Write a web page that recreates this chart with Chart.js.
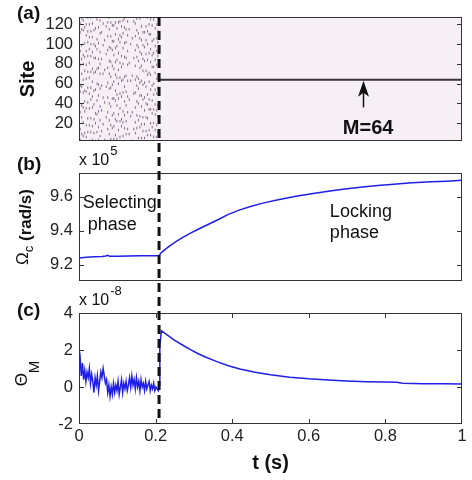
<!DOCTYPE html>
<html>
<head>
<meta charset="utf-8">
<script src="https://cdn.jsdelivr.net/npm/chart.js@4.4.0/dist/chart.umd.min.js"></script>
<style>
  body { margin: 0; background: #fff; }
  #wrap { position: relative; width: 472px; height: 480px; }
  #wrap canvas { position: absolute; left: 0; top: 0; }
</style>
</head>
<body>
<div id="wrap">
  <canvas id="panelA" width="472" height="480"></canvas>
  <canvas id="panelB" width="472" height="480"></canvas>
  <canvas id="panelC" width="472" height="480"></canvas>
</div>
<script>
// switch from selecting to locking, and the site that gets locked
var lockTime = 0.209;
var lockedSite = 64;

var siteTicks = [20, 40, 60, 80, 100, 120];
var omegaTicks = [9.2, 9.4, 9.6];
var thetaTicks = [-2, 0, 2, 4];
var timeTicks = [0, 0.2, 0.4, 0.6, 0.8, 1];

// (a) selected sites during the selecting phase, one string per time column,
// every second site of a string sits in the alt column next to it
var selectTimes = [0.003, 0.107, 0.043, 0.179, 0.083, 0.011, 0.155, 0.059, 0.067, 0.123, 0.027, 0.195, 0.091,
                   0.147, 0.051, 0.171, 0.131, 0.139, 0.019, 0.099, 0.187, 0.035, 0.115, 0.163, 0.075, 0.203];
var selectTimesAlt = [0.007, 0.111, 0.047, 0.183, 0.087, 0.015, 0.159, 0.063, 0.071, 0.127, 0.031, 0.199, 0.095,
                      0.151, 0.055, 0.175, 0.135, 0.143, 0.023, 0.103, 0.191, 0.039, 0.119, 0.167, 0.079, 0.206];
var selectSites = [
    "3 9 14 26 31 38 52 57 58 70 79 85 93 99 112 115 121 126",
    "6 17 22 24 35 47 50 63 66 77 81 88 102 107 109 118 123",
    "2 11 20 29 30 43 54 60 72 75 86 95 98 105 116 125",
    "8 13 25 34 39 44 49 62 69 71 84 91 100 110 113 120 127",
    "4 15 18 28 37 45 56 59 67 78 82 94 96 103 108 119 122",
    "7 10 21 32 36 42 51 53 64 73 80 87 89 101 114 117 124",
    "5 16 23 27 40 48 55 61 65 76 83 92 97 106 111 126",
    "12 19 33 46 58 70 85 99 112 121",
    "3 26 41 57 74 90 104 118",
    "9 14 22 31 38 47 52 63 68 79 86 93 102 109 115 123",
    "2 11 18 25 35 44 50 56 66 72 81 88 95 100 107 113 120 127",
    "6 13 20 29 34 39 49 54 60 71 77 84 91 98 105 116 125",
    "4 8 17 24 30 43 45 53 62 69 75 82 89 96 103 110 119 122",
    "10 15 21 28 36 42 51 58 64 67 78 87 94 99 108 114 121 126",
    "3 7 16 23 32 37 48 55 59 70 76 80 85 92 101 111 117 124",
    "5 12 19 26 33 40 46 57 61 73 83 90 97 104 112 118",
    "9 27 44 63 81 100 115",
    "2 14 31 50 68 86 106 123",
    "6 11 18 25 35 41 52 56 65 72 79 88 93 102 109 113 120 127",
    "4 13 22 29 38 45 49 60 66 74 84 91 98 105 116 122",
    "8 16 20 30 34 43 54 58 69 77 82 89 95 103 110 119 125",
    "3 10 17 24 36 39 47 53 62 71 75 86 92 100 107 114 121",
    "7 15 21 28 32 42 51 57 64 67 80 87 96 101 111 117 124 126",
    "5 12 19 26 37 44 48 59 63 73 78 85 90 99 104 112 118",
    "2 9 14 23 31 40 46 55 61 70 76 83 94 97 108 115 122 127",
    "6 11 18 27 33 38 50 56 65 68 79 88 93 102 106 113 120"
];

// (b) Omega_c in units of 1e5 rad/s
var omegaTimes = [0, 0.02, 0.04, 0.06, 0.07, 0.075, 0.08, 0.1, 0.13, 0.16, 0.19, 0.209, 0.215, 0.23, 0.25, 0.27, 0.29, 0.31,
                  0.33, 0.36, 0.39, 0.42, 0.45, 0.48, 0.52, 0.57, 0.62, 0.66, 0.70, 0.74, 0.78, 0.83, 0.87, 0.92, 0.96, 1.0];
var omegaValues = [9.240, 9.244, 9.247, 9.249, 9.252, 9.256, 9.250, 9.251, 9.252, 9.253, 9.253, 9.254, 9.272, 9.300, 9.332, 9.360, 9.385, 9.408,
                   9.430, 9.462, 9.497, 9.523, 9.545, 9.563, 9.583, 9.605, 9.623, 9.636, 9.648, 9.658, 9.667, 9.676, 9.682, 9.688, 9.692, 9.697];

// (c) Theta_M in units of 1e-8
var thetaTimes = [0, 0.003, 0.006, 0.009, 0.012, 0.015, 0.018, 0.021, 0.024, 0.027, 0.030, 0.033, 0.036, 0.039, 0.042, 0.045,
                  0.048, 0.051, 0.054, 0.057, 0.060, 0.063, 0.066, 0.069, 0.072, 0.075, 0.078, 0.081, 0.084, 0.087, 0.090, 0.093,
                  0.096, 0.099, 0.102, 0.105, 0.108, 0.111, 0.114, 0.117, 0.120, 0.123, 0.126, 0.129, 0.132, 0.135, 0.138, 0.141,
                  0.144, 0.147, 0.150, 0.153, 0.156, 0.159, 0.162, 0.165, 0.168, 0.171, 0.174, 0.177, 0.180, 0.183, 0.186, 0.189,
                  0.192, 0.195, 0.198, 0.201, 0.204, 0.207, 0.209,
                  0.211, 0.215, 0.23, 0.25, 0.27, 0.29, 0.31, 0.33, 0.36, 0.39, 0.42, 0.46, 0.50, 0.55, 0.60, 0.65, 0.70, 0.75,
                  0.80, 0.83, 0.845, 0.90, 0.95, 1.0];
var thetaValues = [1.1, 1.55, 0.6, 1.3, 0.4, 0.9, 0.3, 0.8, 0.5, 1.0, 0.2, 0.7, 0.3, -0.3, 0.5, 0.1,
                   0.6, -0.2, 0.3, 0.8, 0.5, 1.0, 0.6, 0.2, 0.4, -0.3, 0.1, -0.5, 0.0, -0.4, 0.2, -0.3,
                   0.1, -0.2, 0.3, -0.4, 0.0, 0.4, -0.3, 0.2, -0.1, 0.3, -0.2, 0.1, 0.5, 0.0, 0.6, 0.1,
                   0.4, -0.1, 0.5, 0.0, 0.3, -0.2, 0.4, 0.0, 0.2, -0.2, 0.3, -0.1, 0.1, 0.3, -0.2, 0.1,
                   -0.1, 0.2, -0.2, 0.0, -0.1, -0.2, 0.1,
                   2.2, 3.05, 2.82, 2.52, 2.27, 2.03, 1.81, 1.62, 1.37, 1.15, 0.97, 0.8, 0.66, 0.53, 0.44, 0.38, 0.33, 0.29,
                   0.27, 0.26, 0.2, 0.18, 0.17, 0.16];

var FONT = '"Liberation Sans", Arial, sans-serif';
Chart.defaults.font.family = FONT;
Chart.defaults.font.size = 16.5;
Chart.defaults.color = '#222';

var panels = [];

function toPoints(xs, ys) {
    return xs.map(function(x, i) { return {x: x, y: ys[i]}; });
}

var selectPoints = [];
for (var i = 0; i < selectTimes.length; i++) {
    selectSites[i].split(' ').forEach(function(s, k) {
        selectPoints.push({x: k % 2 ? selectTimesAlt[i] : selectTimes[i], y: Number(s)});
    });
}

function txt(ctx, s, x, y, font, align, base) {
    ctx.font = font + ' ' + FONT;
    ctx.textAlign = align || 'left';
    ctx.textBaseline = base || 'alphabetic';
    ctx.fillStyle = '#111';
    ctx.fillText(s, x, y);
}

// text running bottom to top, parts = [text, font, drop below baseline]
function rotatedLabel(ctx, cx, cy, parts) {
    ctx.save();
    ctx.translate(cx, cy);
    ctx.rotate(-Math.PI / 2);
    var total = 0;
    parts.forEach(function(p) { ctx.font = p[1] + ' ' + FONT; p.w = ctx.measureText(p[0]).width; total += p.w; });
    var x = -total / 2;
    parts.forEach(function(p) { txt(ctx, p[0], x, p[2], p[1]); x += p.w; });
    ctx.restore();
}

function tickList(values) {
    return function(scale) { scale.ticks = values.map(function(v) { return {value: v}; }); };
}

function plainLabel(v) { return String(v); }

function yAxis(min, max, ticks) {
    return {
        min: min, max: max,
        afterFit: function(s) { s.width = 79; },
        afterBuildTicks: tickList(ticks),
        grid: { display: false, drawTicks: false },
        border: { display: false },
        ticks: { padding: 6, callback: plainLabel }
    };
}

var pinkBg = {
    id: 'pinkBg',
    beforeDatasetsDraw: function(chart) {
        var a = chart.chartArea, ctx = chart.ctx;
        ctx.save();
        ctx.fillStyle = '#f6f0f6';
        ctx.fillRect(a.left, a.top, a.right - a.left, a.bottom - a.top);
        ctx.restore();
    }
};

// matlab style box with inward ticks
var boxPlugin = {
    id: 'box',
    afterDatasetsDraw: function(chart) {
        var ctx = chart.ctx, a = chart.chartArea, xs = chart.scales.x, ys = chart.scales.y;
        ctx.save();
        ctx.strokeStyle = '#333';
        ctx.lineWidth = 1;
        ctx.beginPath();
        ys.ticks.forEach(function(t) {
            var py = Math.round(ys.getPixelForValue(t.value)) + 0.5;
            if (py < a.top + 2 || py > a.bottom - 2) return;
            ctx.moveTo(a.left, py); ctx.lineTo(a.left + 5, py);
            ctx.moveTo(a.right, py); ctx.lineTo(a.right - 5, py);
        });
        if (xs.options.display) {
            xs.ticks.forEach(function(t) {
                var px = Math.round(xs.getPixelForValue(t.value)) + 0.5;
                if (px < a.left + 2 || px > a.right - 2) return;
                ctx.moveTo(px, a.top); ctx.lineTo(px, a.top + 5);
                ctx.moveTo(px, a.bottom); ctx.lineTo(px, a.bottom - 5);
            });
        }
        ctx.stroke();
        ctx.strokeRect(Math.round(a.left) + 0.5, Math.round(a.top) + 0.5,
                       Math.round(a.right - a.left) - 1, Math.round(a.bottom - a.top) - 1);
        ctx.restore();
    }
};

var textA = {
    id: 'textA',
    afterDraw: function(chart) {
        var ctx = chart.ctx, xs = chart.scales.x, ys = chart.scales.y;
        txt(ctx, '(a)', 17, 14, 'bold 19px', 'left', 'middle');
        // arrow pointing at the locked site
        var ax = Math.round(xs.getPixelForValue(0.741)) + 0.5;
        var tip = ys.getPixelForValue(lockedSite) + 1;
        var tail = ys.getPixelForValue(36);
        ctx.save();
        ctx.strokeStyle = '#111';
        ctx.fillStyle = '#111';
        ctx.lineWidth = 1.5;
        ctx.beginPath();
        ctx.moveTo(ax, tail); ctx.lineTo(ax, tip + 10);
        ctx.stroke();
        ctx.beginPath();
        ctx.moveTo(ax, tip);
        ctx.lineTo(ax - 5.5, tip + 16);
        ctx.lineTo(ax, tip + 12);
        ctx.lineTo(ax + 5.5, tip + 16);
        ctx.closePath();
        ctx.fill();
        ctx.restore();
        txt(ctx, 'M=64', xs.getPixelForValue(0.755), ys.getPixelForValue(9), 'bold 20px', 'center');
    }
};

var textB = {
    id: 'textB',
    afterDraw: function(chart) {
        var ctx = chart.ctx, a = chart.chartArea, xs = chart.scales.x, ys = chart.scales.y;
        txt(ctx, '(b)', 17, 165, 'bold 19px', 'left', 'middle');
        txt(ctx, 'x 10', 79, a.top - 8, '16px');
        ctx.font = '16px ' + FONT;
        txt(ctx, '5', 80 + ctx.measureText('x 10').width, a.top - 18, '13px');
        txt(ctx, 'Selecting', xs.getPixelForValue(0.01), ys.getPixelForValue(9.535), '18px');
        txt(ctx, 'phase', xs.getPixelForValue(0.023), ys.getPixelForValue(9.405), '18px');
        txt(ctx, 'Locking', xs.getPixelForValue(0.655), ys.getPixelForValue(9.482), '18px');
        txt(ctx, 'phase', xs.getPixelForValue(0.655), ys.getPixelForValue(9.36), '18px');
        rotatedLabel(ctx, 28, (a.top + a.bottom) / 2, [['\u03A9', '17px', 0], ['c', '13px', 5], [' (rad/s)', 'bold 17px', 3]]);
    }
};

var textC = {
    id: 'textC',
    afterDraw: function(chart) {
        var ctx = chart.ctx, a = chart.chartArea, xs = chart.scales.x;
        txt(ctx, '(c)', 17, 311, 'bold 19px', 'left', 'middle');
        txt(ctx, 'x 10', 79, a.top - 8, '16px');
        ctx.font = '16px ' + FONT;
        txt(ctx, '-8', 80 + ctx.measureText('x 10').width, a.top - 18, '13px');
        rotatedLabel(ctx, 27, (a.top + a.bottom) / 2 + 5, [['\u0398', '17px', 0], ['M', '15px', 12]]);
        // dashed switch line through all three panels
        var x = xs.getPixelForValue(lockTime);
        ctx.save();
        ctx.strokeStyle = '#111';
        ctx.lineWidth = 3;
        ctx.setLineDash([9, 5]);
        ctx.beginPath();
        ctx.moveTo(x, panels[0].chartArea.top);
        ctx.lineTo(x, a.bottom);
        ctx.stroke();
        ctx.restore();
    }
};

var common = {
    responsive: false,
    animation: false,
    events: [],
    plugins: { legend: { display: false }, tooltip: { enabled: false } }
};

var yA = yAxis(2, 127.5, siteTicks);
yA.title = { display: true, text: 'Site', color: '#111', font: { size: 20, weight: 'bold' }, padding: { top: 16 } };

panels.push(new Chart(document.getElementById('panelA'), {
    type: 'scatter',
    data: {
        datasets: [
            { data: selectPoints, pointStyle: 'line', pointRotation: 90, pointRadius: 1.3, pointBorderWidth: 1,
              borderColor: '#856d87', backgroundColor: '#856d87' },
            { data: [{x: lockTime, y: lockedSite}, {x: 1, y: lockedSite}], showLine: true, borderColor: '#3c2f3d', borderWidth: 2, pointRadius: 0 }
        ]
    },
    options: Object.assign({}, common, {
        layout: { padding: { left: 0, right: 10, top: 17, bottom: 339 } },
        scales: { x: { type: 'linear', min: 0, max: 1, display: false }, y: yA }
    }),
    plugins: [pinkBg, boxPlugin, textA]
}));

panels.push(new Chart(document.getElementById('panelB'), {
    type: 'scatter',
    data: {
        datasets: [{ data: toPoints(omegaTimes, omegaValues), showLine: true, borderColor: '#1f1fe6', borderWidth: 1.5, pointRadius: 0 }]
    },
    options: Object.assign({}, common, {
        layout: { padding: { left: 0, right: 10, top: 173, bottom: 199 } },
        scales: { x: { type: 'linear', min: 0, max: 1, display: false }, y: yAxis(9.105, 9.74, omegaTicks) }
    }),
    plugins: [boxPlugin, textB]
}));

panels.push(new Chart(document.getElementById('panelC'), {
    type: 'scatter',
    data: {
        datasets: [{ data: toPoints(thetaTimes, thetaValues), showLine: true, borderColor: '#1f1fe6', borderWidth: 1.5, pointRadius: 0 }]
    },
    options: Object.assign({}, common, {
        layout: { padding: { left: 0, right: 10, top: 313, bottom: 0 } },
        scales: {
            x: {
                type: 'linear', min: 0, max: 1,
                afterFit: function(s) { s.height = 56; },
                afterBuildTicks: tickList(timeTicks),
                grid: { display: false, drawTicks: false },
                border: { display: false },
                ticks: { padding: 3, callback: plainLabel },
                title: { display: true, text: 't (s)', color: '#111', font: { size: 20, weight: 'bold' }, padding: { top: 0, bottom: 5 } }
            },
            y: yAxis(-2, 4, thetaTicks)
        }
    }),
    plugins: [boxPlugin, textC]
}));
</script>
</body>
</html>
